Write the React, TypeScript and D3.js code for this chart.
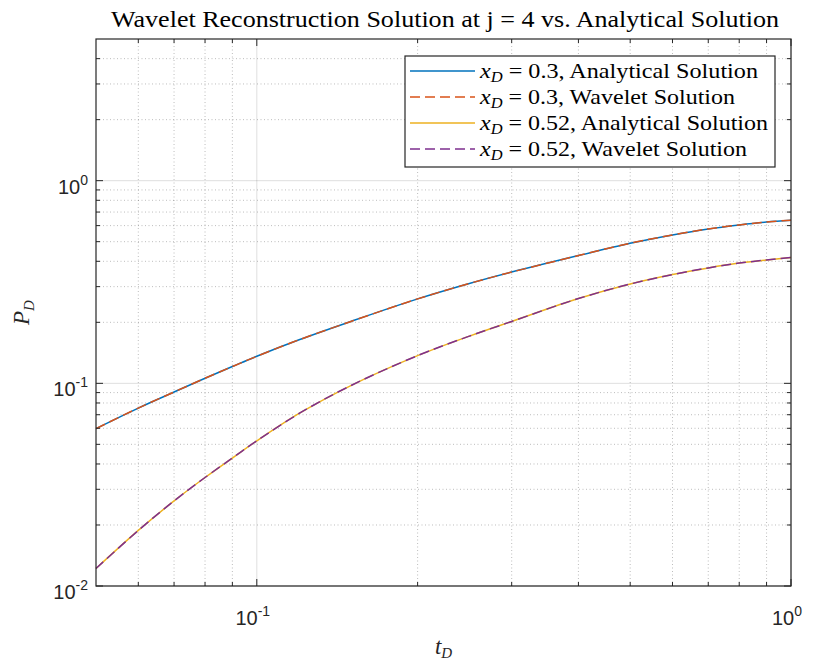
import React from "react";
import * as d3 from "d3";

const tD = [0.05, 0.06, 0.07, 0.08, 0.09, 0.1, 0.12, 0.15, 0.2, 0.25, 0.3, 0.4, 0.5, 0.6, 0.7, 0.8, 0.9, 1.0];
const analytical03 = [0.0598, 0.0755, 0.0906, 0.106, 0.121, 0.136, 0.164, 0.202, 0.261, 0.311, 0.354, 0.427, 0.491, 0.54, 0.578, 0.605, 0.6255, 0.638];
const wavelet03 = [0.0598, 0.0755, 0.0906, 0.106, 0.121, 0.136, 0.164, 0.202, 0.261, 0.311, 0.354, 0.427, 0.491, 0.54, 0.578, 0.605, 0.6255, 0.638];
const analytical052 = [0.0122, 0.0188, 0.0263, 0.0343, 0.0428, 0.052, 0.071, 0.0975, 0.137, 0.171, 0.202, 0.262, 0.309, 0.344, 0.371, 0.392, 0.406, 0.418];
const wavelet052 = [0.0122, 0.0188, 0.0263, 0.0343, 0.0428, 0.052, 0.071, 0.0975, 0.137, 0.171, 0.202, 0.262, 0.309, 0.344, 0.371, 0.392, 0.406, 0.418];

const xMajorTicks = [0.1, 1];
const xMajorLabels = ["-1", "0"];
const yMajorTicks = [0.01, 0.1, 1];
const yMajorLabels = ["-2", "-1", "0"];

const seriesNames = ["0.3, Analytical Solution", "0.3, Wavelet Solution", "0.52, Analytical Solution", "0.52, Wavelet Solution"];
const seriesValues = [analytical03, wavelet03, analytical052, wavelet052];
const seriesColors = ["#0072BD", "#D95319", "#EDB120", "#7E2F8E"];
const seriesDashed = [false, true, false, true];
const legendTextWidths = [278, 255, 288, 267];

const W = 813, H = 663;
const L = 96, R = 791, T = 39, B = 586;
const AX = "#262626";
const SANS = "'Liberation Sans', Arial, Helvetica, sans-serif";
const SERIF = "'Liberation Serif', 'Times New Roman', serif";

function minorTicks(lo: number, hi: number) {
  const out: number[] = [];
  for (let e = Math.floor(Math.log10(lo)); e <= Math.ceil(Math.log10(hi)); e++) {
    for (let k = 2; k <= 9; k++) {
      const v = k * Math.pow(10, e);
      if (v > lo * 1.0001 && v < hi * 0.9999) out.push(v);
    }
  }
  return out;
}

export default function App() {
  const x = d3.scaleLog().domain([0.05, 1]).range([L, R]);
  const y = d3.scaleLog().domain([0.01, 5]).range([B, T]);
  const xMinor = minorTicks(0.05, 1);
  const yMinor = minorTicks(0.01, 5);
  const line = d3
    .line<number>()
    .x((_, i) => x(tD[i]))
    .y((d) => y(d))
    .curve(d3.curveCatmullRom.alpha(0.5));

  const majorGrid = "rgba(38,38,38,0.15)";
  const minorGrid = "rgba(38,38,38,0.3)";

  return (
    <svg width={W} height={H} style={{ position: "absolute", left: 0, top: 0, background: "#fff" }}>
      <rect x={0} y={0} width={W} height={H} fill="#fff" />
      <rect x={L} y={T} width={R - L} height={B - T} fill="#fff" />
      {xMinor.map((v) => (
        <line key={"xm" + v} x1={x(v)} x2={x(v)} y1={T} y2={B} stroke={minorGrid} strokeWidth={1} strokeDasharray="1,2.5" />
      ))}
      {yMinor.map((v) => (
        <line key={"ym" + v} x1={L} x2={R} y1={y(v)} y2={y(v)} stroke={minorGrid} strokeWidth={1} strokeDasharray="1,2.5" />
      ))}
      {xMajorTicks.map((v) => (
        <line key={"xg" + v} x1={x(v)} x2={x(v)} y1={T} y2={B} stroke={majorGrid} strokeWidth={1} />
      ))}
      {yMajorTicks.map((v) => (
        <line key={"yg" + v} x1={L} x2={R} y1={y(v)} y2={y(v)} stroke={majorGrid} strokeWidth={1} />
      ))}
      {seriesValues.map((vals, i) => (
        <path
          key={"s" + i}
          d={line(vals) || ""}
          fill="none"
          stroke={seriesColors[i]}
          strokeWidth={1.5}
          strokeDasharray={seriesDashed[i] ? "10,5" : undefined}
        />
      ))}
      {xMajorTicks.map((v) => (
        <g key={"xt" + v}>
          <line x1={x(v)} x2={x(v)} y1={B} y2={B - 7} stroke={AX} />
          <line x1={x(v)} x2={x(v)} y1={T} y2={T + 7} stroke={AX} />
        </g>
      ))}
      {xMinor.map((v) => (
        <g key={"xmt" + v}>
          <line x1={x(v)} x2={x(v)} y1={B} y2={B - 4} stroke={AX} />
          <line x1={x(v)} x2={x(v)} y1={T} y2={T + 4} stroke={AX} />
        </g>
      ))}
      {yMajorTicks.map((v) => (
        <g key={"yt" + v}>
          <line x1={L} x2={L + 7} y1={y(v)} y2={y(v)} stroke={AX} />
          <line x1={R} x2={R - 7} y1={y(v)} y2={y(v)} stroke={AX} />
        </g>
      ))}
      {yMinor.map((v) => (
        <g key={"ymt" + v}>
          <line x1={L} x2={L + 4} y1={y(v)} y2={y(v)} stroke={AX} />
          <line x1={R} x2={R - 4} y1={y(v)} y2={y(v)} stroke={AX} />
        </g>
      ))}
      <rect x={L} y={T} width={R - L} height={B - T} fill="none" stroke={AX} strokeWidth={1.2} />
      {xMajorTicks.map((v, i) => (
        <text key={"xl" + v} x={x(v) - 4} y={B + 39} fontFamily={SANS} fontSize={20} fill={AX} textAnchor="middle">
          10
          <tspan fontSize={14} dy={-9}>{xMajorLabels[i]}</tspan>
        </text>
      ))}
      {yMajorTicks.map((v, i) => (
        <text key={"yl" + v} x={L - 8} y={y(v) + 13} fontFamily={SANS} fontSize={20} fill={AX} textAnchor="end">
          10
          <tspan fontSize={14} dy={-9}>{yMajorLabels[i]}</tspan>
        </text>
      ))}
      <text x={(L + R) / 2} y={654} fontFamily={SERIF} fontSize={23} fill={AX} textAnchor="middle">
        <tspan fontStyle="italic">t</tspan>
        <tspan fontStyle="italic" fontSize={15} dy={4}>D</tspan>
      </text>
      <text transform={`translate(29, ${(T + B) / 2}) rotate(-90)`} fontFamily={SERIF} fontSize={23} fill={AX} textAnchor="middle">
        <tspan fontStyle="italic">P</tspan>
        <tspan fontStyle="italic" fontSize={15} dy={5}>D</tspan>
      </text>
      <text x={445} y={27} fontFamily={SERIF} fontSize={23} fill="#000" textAnchor="middle" textLength={668} lengthAdjust="spacingAndGlyphs">
        Wavelet Reconstruction Solution at j = 4 vs. Analytical Solution
      </text>
      <g>
        <rect x={405} y={56} width={370} height={111} fill="#fff" stroke={AX} strokeWidth={1.2} />
        {seriesNames.map((name, i) => {
          const cy = 71 + i * 26;
          return (
            <g key={"lg" + i}>
              <line x1={410} x2={475} y1={cy} y2={cy} stroke={seriesColors[i]} strokeWidth={1.5} strokeDasharray={seriesDashed[i] ? "10,5" : undefined} />
              <text x={480} y={cy + 7} fontFamily={SERIF} fontSize={22} fill="#000" textLength={legendTextWidths[i]} lengthAdjust="spacingAndGlyphs">
                <tspan fontStyle="italic">x</tspan>
                <tspan fontStyle="italic" fontSize={15} dy={4}>D</tspan>
                <tspan dy={-4}>{" = " + name}</tspan>
              </text>
            </g>
          );
        })}
      </g>
    </svg>
  );
}
